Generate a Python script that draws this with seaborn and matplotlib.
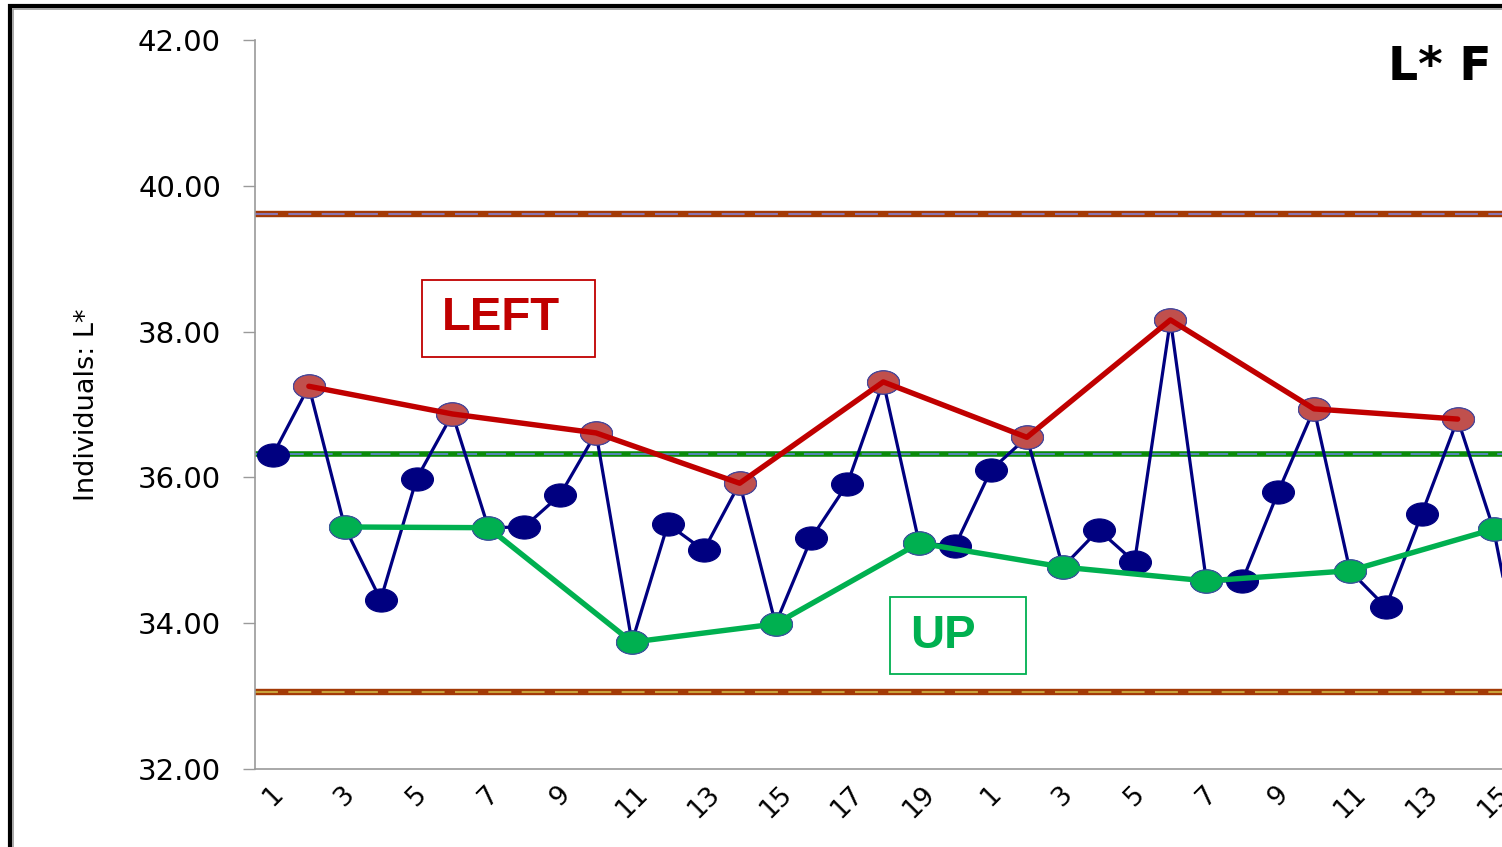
import numpy as np
import matplotlib
matplotlib.use("Agg")
import matplotlib.pyplot as plt
import matplotlib.path as mpath
import matplotlib.patches as mpatches
from matplotlib import font_manager
import seaborn as sns
import pandas as pd

# Individual L* readings (two runs of samples)
values = [36.31, 37.25, 35.32, 34.32, 35.98, 36.87, 35.31, 35.32, 35.76, 36.61,
          33.74, 35.36, 35.00, 35.92, 33.99, 35.17, 35.91, 37.31, 35.10, 35.06,
          36.10, 36.55, 34.77, 35.28, 34.84, 38.16, 34.58, 34.58, 35.80, 36.94,
          34.72, 34.22, 35.50, 36.80, 35.29, 32.80]
sample_labels = [str(i) for i in range(1, 21)] + [str(i) for i in range(1, 17)]

# Which samples were measured on the LEFT and UP positions (1-based)
left_idx = [2, 6, 10, 14, 18, 22, 26, 30, 34]
up_idx = [3, 7, 11, 15, 19, 23, 27, 31, 35]

center_line = 36.32
ucl = 39.61
lcl = 33.06

y_ticks = [32.0, 34.0, 36.0, 38.0, 40.0, 42.0]

df = pd.DataFrame({"sample": np.arange(1, len(values) + 1), "L": values})
left_df = df[df["sample"].isin(left_idx)]
up_df = df[df["sample"].isin(up_idx)]

sns.set_style("white")
plt.rcParams["font.family"] = ["DejaVu Sans"]
plt.rcParams["text.color"] = "black"
plt.rcParams["xtick.color"] = "black"
plt.rcParams["ytick.color"] = "black"

W, H = 1502, 847
fig = plt.figure(figsize=(W / 100, H / 100), dpi=100)

# Outer frame of the chart area (continues past the right/bottom edges)
fig.patches.append(mpatches.Rectangle((9.5 / W, -0.2), 1.3, 1 - 6.0 / H + 0.2,
                                      transform=fig.transFigure, fill=False,
                                      edgecolor="black", linewidth=3.0, zorder=0))
fig.patches.append(mpatches.Rectangle((12.5 / W, -0.2), 1.3, 1 - 9.0 / H + 0.2,
                                      transform=fig.transFigure, fill=False,
                                      edgecolor="#9a9a9a", linewidth=1.2, zorder=0))

x_left_px, x_step = 255, 35.9
n_span = 40
ax = fig.add_axes([x_left_px / W, 78 / H, n_span * x_step / W, 729 / H])
ax.set_xlim(0.5, n_span + 0.5)
ax.set_ylim(32, 42)

# Elliptical marker shape
ellipse = mpath.Path.unit_circle().transformed(
    matplotlib.transforms.Affine2D().scale(1.38, 1.0))

# Control limits: brown band with a dashed inner stripe
for yv, inner in [(ucl, "#8a74b0"), (lcl, "#c9a23a")]:
    ax.axhline(yv, color="#a33a06", linewidth=4.6, zorder=2)
    ax.axhline(yv, color=inner, linewidth=1.5, linestyle=(0, (11, 5)), zorder=2)
ax.axhline(center_line, color="#0a8a0a", linewidth=4.0, zorder=2)
ax.axhline(center_line, color="#5b86c8", linewidth=1.3, linestyle=(0, (11, 5)), zorder=2)

# Individuals series
sns.lineplot(data=df, x="sample", y="L", ax=ax, color="#000080", linewidth=2.3,
             marker=ellipse, markersize=23, markerfacecolor="#000080",
             markeredgecolor="#000080", markeredgewidth=0.8, zorder=3)

# Highlight LEFT and UP samples
sns.lineplot(data=left_df, x="sample", y="L", ax=ax, color="#c00000", linewidth=0,
             marker=ellipse, markersize=23, markerfacecolor="#c0504d",
             markeredgecolor="#4a4a9a", markeredgewidth=0.8, zorder=4)
sns.lineplot(data=up_df, x="sample", y="L", ax=ax, color="#00b050", linewidth=0,
             marker=ellipse, markersize=23, markerfacecolor="#00b050",
             markeredgecolor="#3a5a9a", markeredgewidth=0.8, zorder=4)
sns.lineplot(data=left_df, x="sample", y="L", ax=ax, color="#c00000",
             linewidth=3.9, zorder=5)
sns.lineplot(data=up_df, x="sample", y="L", ax=ax, color="#00b050",
             linewidth=3.9, zorder=5)

# Axes styling
for side in ["top", "right"]:
    ax.spines[side].set_visible(False)
for side in ["left", "bottom"]:
    ax.spines[side].set_color("#9a9a9a")
    ax.spines[side].set_linewidth(1.2)

ax.set_yticks(y_ticks)
ax.set_yticklabels([f"{v:.2f}" for v in y_ticks], fontsize=21, color="black")
ax.tick_params(axis="y", direction="out", length=8.5, width=1.0, color="#9a9a9a",
               pad=16, left=True)

odd_pos = np.arange(1, len(values) + 1, 2)
ax.set_xticks(odd_pos)
ax.set_xticklabels([sample_labels[p - 1] for p in odd_pos], fontsize=19,
                   rotation=45, ha="center", color="black")
ax.tick_params(axis="x", length=0, pad=9)
ax.set_xlabel("")
ax.set_ylabel("")

# Axis title in a narrow face when one is available
installed = {f.name for f in font_manager.fontManager.ttflist}
if "Liberation Sans Narrow" in installed:
    ylab_font = dict(family="Liberation Sans Narrow", fontsize=25)
else:
    ylab_font = dict(family="DejaVu Sans", fontsize=19.5)
fig.text(87 / W, 1 - 405 / H, "Individuals: L*", rotation=90, ha="center",
         va="center", color="black", **ylab_font)

fig.text(1388 / W, 1 - 80 / H, "L* F", ha="left", va="baseline",
         fontsize=34, fontweight="bold", color="black")

# Annotation boxes
for text, color, (x0, y0, x1, y1) in [("LEFT", "#c00000", (422, 280, 595, 357)),
                                       ("UP", "#00b050", (890, 597, 1026, 674))]:
    fig.patches.append(mpatches.Rectangle((x0 / W, 1 - y1 / H), (x1 - x0) / W,
                                          (y1 - y0) / H, transform=fig.transFigure,
                                          fill=True, facecolor="white",
                                          edgecolor=color, linewidth=1.3, zorder=6))
    fig.text((x0 + 20) / W, 1 - (y0 + y1) / 2 / H, text, ha="left", va="center",
             fontsize=34, fontweight="bold", color=color, zorder=7,
             family=["Liberation Sans", "DejaVu Sans"])

fig.savefig("out.png", dpi=100)
